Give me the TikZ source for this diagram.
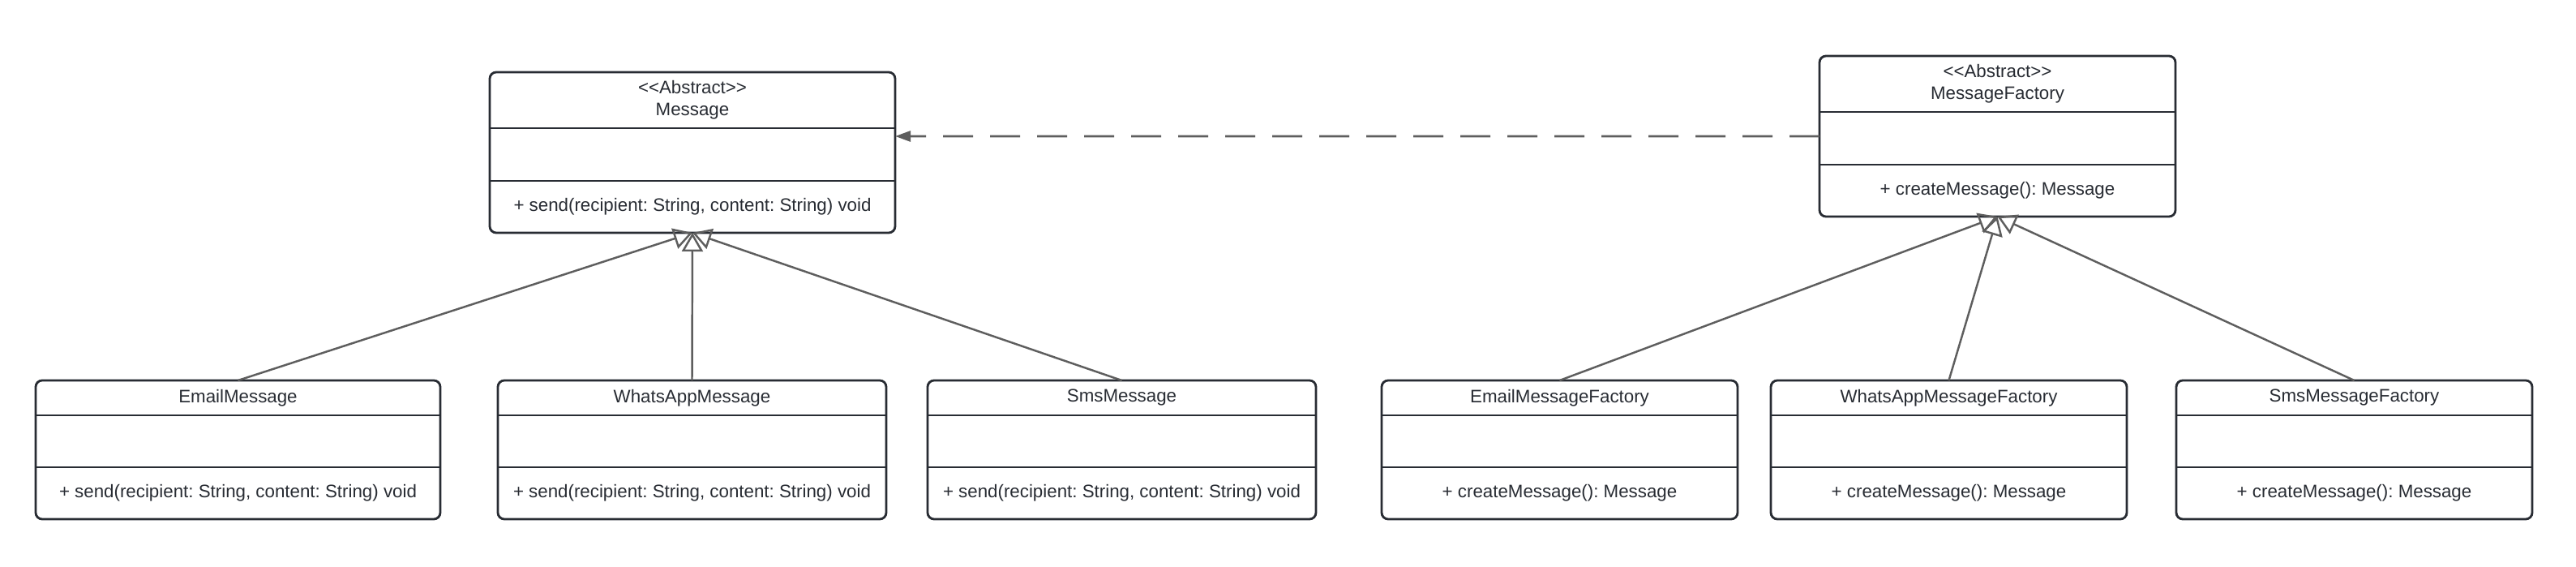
\documentclass[tikz,border=0pt]{standalone}
\usepackage{fontspec}
\setmainfont{Liberation Sans}
\usetikzlibrary{arrows.meta}
\definecolor{boxline}{HTML}{282C33}
\definecolor{conn}{HTML}{5E5E5E}
\tikzset{
  clsbox/.style={draw=boxline, line width=0.8pt, rounded corners=0.08cm, inner sep=0pt, outer sep=0pt, anchor=north, fill=white},
  divider/.style={draw=boxline, line width=0.8pt},
  txt/.style={text=boxline, font=\fontsize{6.35}{7.8}\selectfont\frenchspacing, inner sep=0pt, align=center},
  gen/.style={draw=conn, line width=0.7pt, -{Triangle[open, length=0.23cm, width=0.26cm, line width=0.7pt]}},
  dep/.style={draw=conn, line width=0.8pt, dash pattern=on 0.37cm off 0.21cm, -{Triangle[length=0.19cm, width=0.13cm]}}
}
% name, cx, top, width, height, div1, div2, title, method
\newcommand\umlbox[9]{%
  \node[clsbox, minimum width=#4cm, minimum height=#5cm] (#1) at (#2,#3) {};
  \draw[divider] ([yshift=-#6cm]#1.north west) -- ([yshift=-#6cm]#1.north east);
  \draw[divider] ([yshift=-#7cm]#1.north west) -- ([yshift=-#7cm]#1.north east);
  \node[txt] (#1-title) at ([yshift=-#6cm/2]#1.north) {#8};
  \node[txt] (#1-ops) at ([yshift={-(#7cm+#5cm)/2}]#1.north) {#9};
}
\begin{document}
\begin{tikzpicture}
\fill[white] (0,0) rectangle (31.77,-6.99);
\useasboundingbox (0,0) rectangle (31.77,-6.99);
% abstract classes
\umlbox{msg}{8.54}{-0.89}{5.00}{1.98}{0.69}{1.34}{<\kern0pt<Abstract>\kern0pt>\\Message}{+ send(recipient: String, content: String) void}
\umlbox{mf}{24.635}{-0.69}{4.39}{1.98}{0.69}{1.34}{<\kern0pt<Abstract>\kern0pt>\\MessageFactory}{+ createMessage(): Message}
% concrete messages
\umlbox{email}{2.935}{-4.69}{4.99}{1.71}{0.43}{1.07}{EmailMessage}{+ send(recipient: String, content: String) void}
\umlbox{wa}{8.535}{-4.69}{4.79}{1.71}{0.43}{1.07}{WhatsAppMessage}{+ send(recipient: String, content: String) void}
\umlbox{sms}{13.835}{-4.69}{4.79}{1.71}{0.43}{1.07}{SmsMessage}{+ send(recipient: String, content: String) void}
% concrete factories
\umlbox{emf}{19.235}{-4.69}{4.39}{1.71}{0.43}{1.07}{EmailMessageFactory}{+ createMessage(): Message}
\umlbox{waf}{24.035}{-4.69}{4.39}{1.71}{0.43}{1.07}{WhatsAppMessageFactory}{+ createMessage(): Message}
\umlbox{smsf}{29.035}{-4.69}{4.39}{1.71}{0.43}{1.07}{SmsMessageFactory}{+ createMessage(): Message}
% generalizations
\draw[gen] (email.north) -- (msg.south);
\draw[gen] (wa.north) -- (msg.south);
\draw[gen] (sms.north) -- (msg.south);
\draw[gen] (emf.north) -- (mf.south);
\draw[gen] (waf.north) -- (mf.south);
\draw[gen] (smsf.north) -- (mf.south);
% dependency
\draw[dep] ([yshift=-0.99cm]mf.north west) -- ([yshift=-0.79cm]msg.north east);
\end{tikzpicture}
\end{document}
